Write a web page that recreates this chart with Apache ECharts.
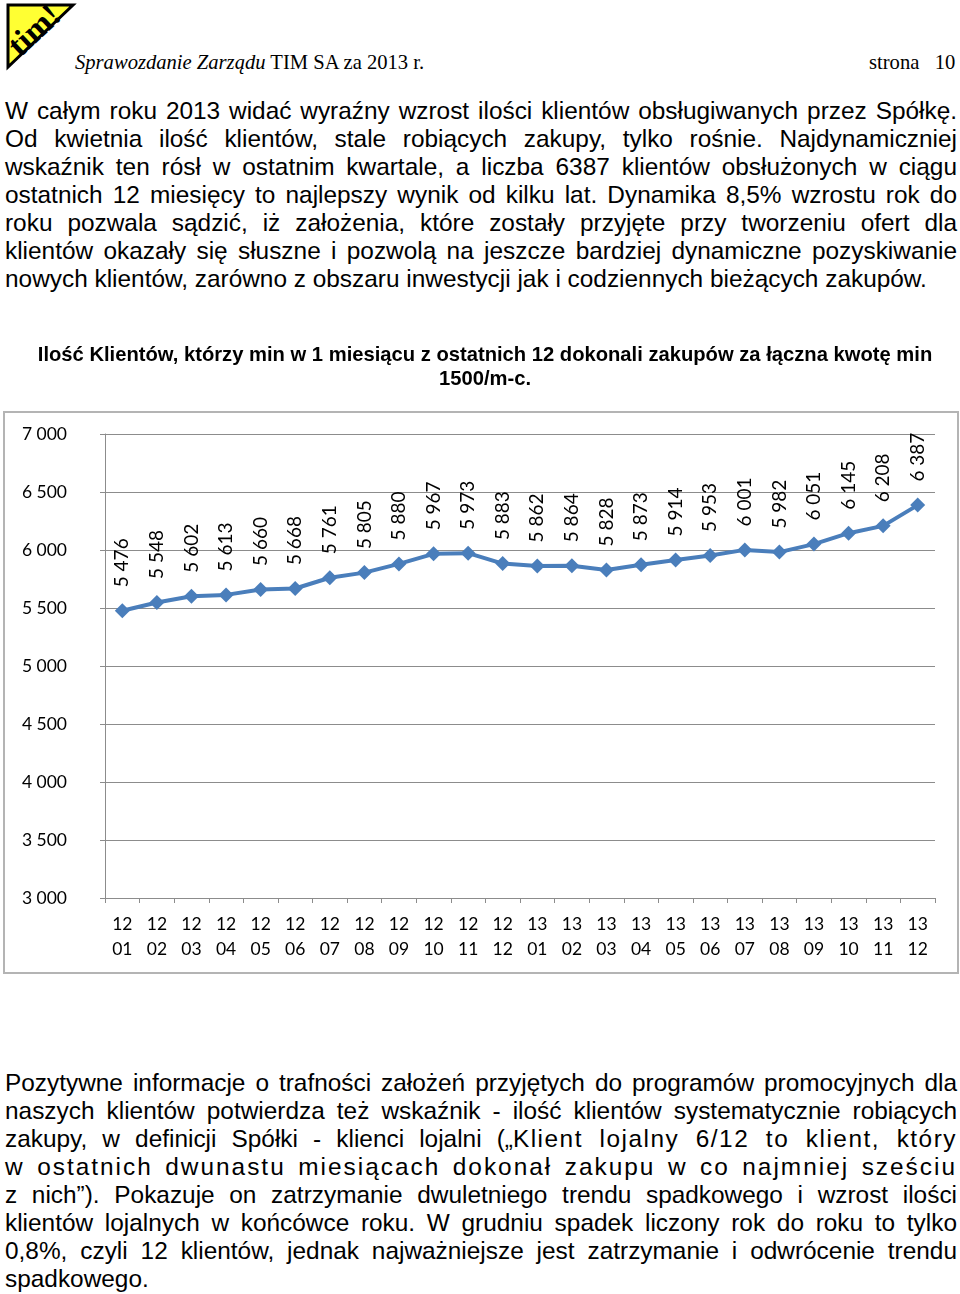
<!DOCTYPE html>
<html>
<head>
<meta charset="utf-8">
<script src="https://cdn.jsdelivr.net/npm/echarts@6/dist/echarts.min.js"></script>
<style>
  html, body { margin:0; padding:0; background:#fff; }
  body { width:960px; height:1294px; position:relative; overflow:hidden; }
  .hdr { position:absolute; font-family:"Liberation Serif", "DejaVu Serif", serif; font-size:20.6px; color:#000; top:50px; line-height:24px; }
  .para { position:absolute; left:5px; width:952px; font-family:"Liberation Sans", Arial, sans-serif; font-size:24.4px; line-height:28px; color:#000; }
  .para div { text-align:justify; text-align-last:justify; white-space:nowrap; }
  .para div.last { text-align-last:left; }
  #chart { position:absolute; left:0; top:330px; width:960px; height:650px; }
</style>
</head>
<body>
<svg style="position:absolute;left:0;top:0" width="80" height="72">
  <polygon points="8,5 73,5 8,67" fill="#ffff33" stroke="#000" stroke-width="3"/>
  <text x="0" y="0" transform="translate(20,58) rotate(-43)" font-family="Liberation Serif, serif" font-weight="bold" font-size="33" fill="#000">tim!</text>
</svg>
<div class="hdr" style="left:75px;"><i>Sprawozdanie Zarządu</i> TIM SA za 2013 r.</div>
<div class="hdr" style="left:869px;">strona&nbsp;&nbsp;&nbsp;10</div>

<div class="para" style="top:97px;">
  <div>W całym roku 2013 widać wyraźny wzrost ilości klientów obsługiwanych przez Spółkę.</div>
  <div>Od kwietnia ilość klientów, stale robiących zakupy, tylko rośnie. Najdynamiczniej</div>
  <div>wskaźnik ten rósł w ostatnim kwartale, a liczba 6387 klientów obsłużonych w ciągu</div>
  <div>ostatnich 12 miesięcy to najlepszy wynik od kilku lat. Dynamika 8,5% wzrostu rok do</div>
  <div>roku pozwala sądzić, iż założenia, które zostały przyjęte przy tworzeniu ofert dla</div>
  <div>klientów okazały się słuszne i pozwolą na jeszcze bardziej dynamiczne pozyskiwanie</div>
  <div class="last">nowych klientów, zarówno z obszaru inwestycji jak i codziennych bieżących zakupów.</div>
</div>

<div id="chart"></div>

<div class="para" style="top:1069px;">
  <div>Pozytywne informacje o trafności założeń przyjętych do programów promocyjnych dla</div>
  <div>naszych klientów potwierdza też wskaźnik - ilość klientów systematycznie robiących</div>
  <div>zakupy, w definicji Spółki - klienci lojalni („<span style="letter-spacing:1.5px">Klient lojalny 6/12 to klient, który</span></div>
  <div style="letter-spacing:2px">w ostatnich dwunastu miesiącach dokonał zakupu w co najmniej sześciu</div>
  <div>z nich”). Pokazuje on zatrzymanie dwuletniego trendu spadkowego i wzrost ilości</div>
  <div>klientów lojalnych w końcówce roku. W grudniu spadek liczony rok do roku to tylko</div>
  <div>0,8%, czyli 12 klientów, jednak najważniejsze jest zatrzymanie i odwrócenie trendu</div>
  <div class="last">spadkowego.</div>
</div>

<script>
var chartTitle = "Ilość Klientów, którzy min w 1 miesiącu z ostatnich 12 dokonali zakupów za łączna kwotę min\n1500/m-c.";
var categories = ["12\n01","12\n02","12\n03","12\n04","12\n05","12\n06","12\n07","12\n08","12\n09","12\n10","12\n11","12\n12",
                  "13\n01","13\n02","13\n03","13\n04","13\n05","13\n06","13\n07","13\n08","13\n09","13\n10","13\n11","13\n12"];
var clients = [5476,5548,5602,5613,5660,5668,5761,5805,5880,5967,5973,5883,5862,5864,5828,5873,5914,5953,6001,5982,6051,6145,6208,6387];
var yMin = 3000, yMax = 7000, yStep = 500;

function fmt(v){ return String(v).replace(/\B(?=(\d{3})+(?!\d))/g, ' '); }

var chart = echarts.init(document.getElementById('chart'));
var gridColor = '#8c8c8c';
chart.setOption({
  animation:false,
  title:{
    text: chartTitle, left:480, top:8, textAlign:'center',
    textStyle:{ fontFamily:'"Liberation Sans", Arial, sans-serif', fontSize:20.2, fontWeight:'bold', lineHeight:24, color:'#000', align:'center' }
  },
  graphic:[{ type:'rect', shape:{ x:4, y:82, width:954, height:561 }, style:{ fill:'none', stroke:'#b4b4b4', lineWidth:2 }, silent:true }],
  grid:{ left:105, right:25, top:104, bottom:82 },
  xAxis:{
    type:'category', data:categories, boundaryGap:true,
    axisLine:{ lineStyle:{ color:gridColor, width:1 } },
    axisTick:{ show:true, length:5, lineStyle:{ color:gridColor } },
    axisLabel:{ color:'#000', fontFamily:'Lato, "Noto Sans", sans-serif', fontSize:17.5, lineHeight:25, margin:14, interval:0 }
  },
  yAxis:{
    type:'value', min:yMin, max:yMax, interval:yStep,
    axisLine:{ show:true, lineStyle:{ color:gridColor, width:1 } },
    axisTick:{ show:true, length:5, lineStyle:{ color:gridColor } },
    splitLine:{ lineStyle:{ color:gridColor, width:1 } },
    axisLabel:{ color:'#000', fontFamily:'Lato, "Noto Sans", sans-serif', fontSize:17.5, margin:38, formatter: fmt }
  },
  series:[{
    type:'line', data:clients,
    symbol:'diamond', symbolSize:15,
    lineStyle:{ color:'#4a7ebb', width:4 },
    itemStyle:{ color:'#4a7ebb' },
    label:{ show:true, position:'top', rotate:90, align:'left', verticalAlign:'middle', distance:16,
            color:'#000', fontFamily:'Lato, "Noto Sans", sans-serif', fontSize:19,
            formatter:function(p){ return fmt(p.value); } }
  }]
});
</script>
</body>
</html>
